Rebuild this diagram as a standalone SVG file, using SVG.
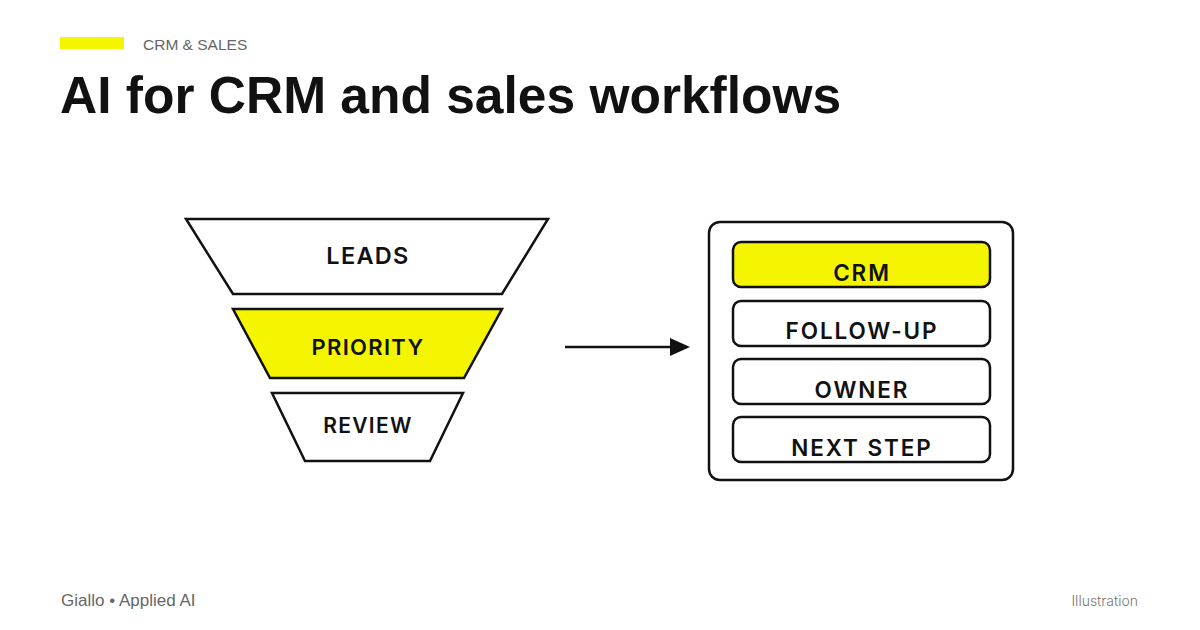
<svg xmlns="http://www.w3.org/2000/svg" width="1200" height="630" viewBox="0 0 1200 630">
<defs>
<style>
.bg{fill:#ffffff}
.shape{stroke:#111111;stroke-width:2.5;stroke-linejoin:miter}
.white{fill:#ffffff}
.yellow{fill:#f5f500}
.lbl{font-family:Inter,"Liberation Sans",sans-serif;font-weight:600;fill:#111111;text-anchor:middle;letter-spacing:1.9px}
.fl{letter-spacing:1.3px}
.conn{stroke:#111111;stroke-width:2.5;fill:none}
</style>
<marker id="ah" markerWidth="10" markerHeight="10" refX="0" refY="5" orient="auto" markerUnits="userSpaceOnUse" viewBox="0 0 10 10" overflow="visible">
<path d="M0,-4 L20,5 L0,14 Z" fill="#111111"/>
</marker>
</defs>
<rect class="bg" x="0" y="0" width="1200" height="630"/>
<g id="header">
<rect x="60" y="37" width="64" height="12" fill="#f5f500"/>
<text x="143" y="50" font-family="'Liberation Sans',sans-serif" font-size="15.5" fill="#666666">CRM &amp; SALES</text>
<text x="60" y="113" font-family="'Liberation Sans',sans-serif" font-weight="700" font-size="51.5" fill="#111111">AI for CRM and sales workflows</text>
</g>
<g id="node-leads">
<polygon class="shape white" points="186,219 548,219 502,294 233,294"/>
<text class="lbl fl" x="368" y="264" font-size="23.5">LEADS</text>
</g>
<g id="node-priority">
<polygon class="shape yellow" points="233,309 502,309 464,378 270,378"/>
<text class="lbl fl" x="368" y="355" font-size="22">PRIORITY</text>
</g>
<g id="node-review">
<polygon class="shape white" points="272,393 463,393 430,461 305,461"/>
<text class="lbl fl" x="368" y="433" font-size="21">REVIEW</text>
</g>
<g id="connectors">
<line class="conn" x1="565" y1="347" x2="670" y2="347" marker-end="url(#ah)"/>
</g>
<g id="node-panel">
<rect class="shape white" x="709" y="222" width="304" height="258" rx="11"/>
</g>
<g id="node-crm">
<rect class="shape yellow" x="733" y="242" width="257" height="45" rx="8"/>
<text class="lbl" x="862" y="281" font-size="22.5">CRM</text>
</g>
<g id="node-followup">
<rect class="shape white" x="733" y="301" width="257" height="45" rx="8"/>
<text class="lbl" x="862" y="339" font-size="22.5">FOLLOW-UP</text>
</g>
<g id="node-owner">
<rect class="shape white" x="733" y="359" width="257" height="45" rx="8"/>
<text class="lbl" x="862" y="398" font-size="22.5">OWNER</text>
</g>
<g id="node-nextstep">
<rect class="shape white" x="733" y="417" width="257" height="45" rx="8"/>
<text class="lbl" x="862" y="456" font-size="22.5">NEXT STEP</text>
</g>
<g id="footer">
<text x="61" y="606" font-family="'Liberation Sans',sans-serif" font-size="17" fill="#666666">Giallo • Applied AI</text>
<text x="1138" y="606" font-family="Inter,'Liberation Sans',sans-serif" font-weight="300" font-size="14" fill="#777777" text-anchor="end">Illustration</text>
</g>
</svg>
